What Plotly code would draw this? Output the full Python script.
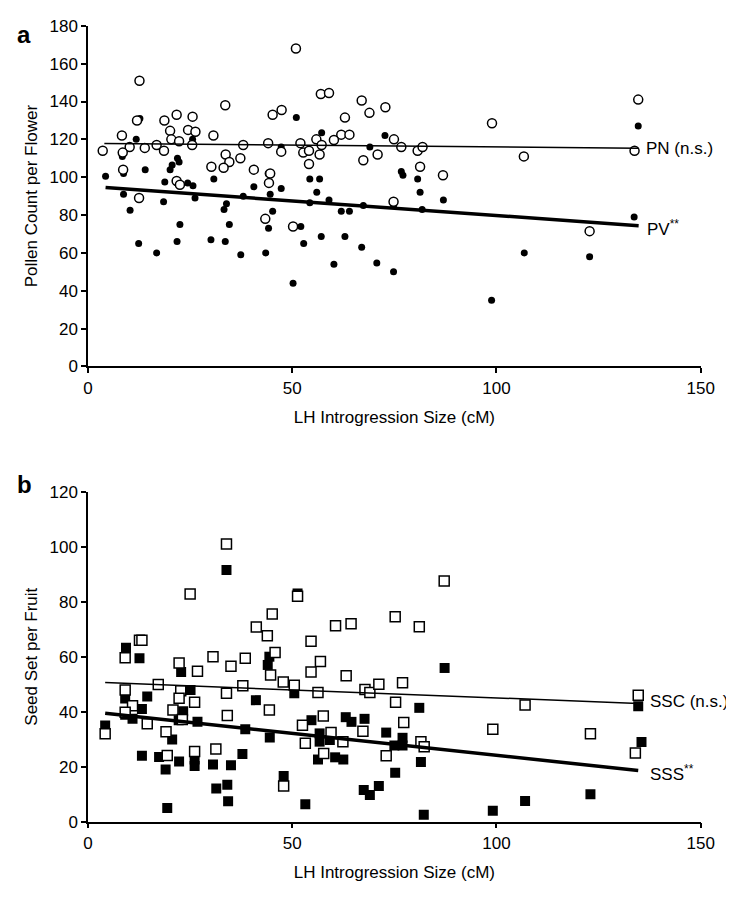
import plotly.graph_objects as go

# ---------------- Panel a: pollen counts ----------------
pn_x = [3.6, 12.6, 50.9, 57, 12, 18.7, 21.7, 25.6, 20.1, 24.5, 26.3, 20.4, 22.3, 25.5, 8.3, 10.2, 8.5, 13.9,
        16.8, 18.6, 30.7, 33.6, 38, 33.7, 34.6, 37.3, 33.2, 30.2, 40.6, 45.2, 47.4, 44.1, 47.3, 52, 52.7, 54.1,
        55.9, 56.7, 54.1, 44.6, 44.3, 8.6, 21.7, 22.5, 12.5, 43.4, 50.2,
        59, 67, 72.8, 68.9, 62.9, 98.9, 62, 64, 60.2, 57.2, 74.9, 76.7, 80.7, 81.9, 70.9, 67.4, 81.3, 86.9,
        106.7, 74.8, 134.7, 133.8, 122.8]
pn_y = [114, 151, 168, 144, 130, 130, 133, 132, 124.5, 125, 124, 120, 119, 117, 122, 116, 113, 115.5,
        117, 114, 122, 138, 117, 112, 108, 110, 105, 105.5, 104, 133, 135.5, 118, 113.5, 118, 113, 114,
        120, 112, 107, 102, 97, 104, 98, 96, 89, 78, 74,
        144.5, 140.5, 137, 134, 131.5, 128.5, 122.5, 122.5, 119.7, 117, 120, 116, 114, 116, 112, 109, 105.5, 101,
        111, 87, 141, 114, 71.5]

pv_x = [4.3, 12.7, 11.8, 8.4, 8.7, 14, 21.9, 22.3, 20.6, 20.1, 25.6, 18.8, 24.4, 25.7, 30.8, 8.7, 18.5, 26.2,
        10.3, 33.9, 33.3, 38, 40.6, 44.1, 47.3, 47.3, 44.6, 51, 57.2, 54.3, 56.7, 56, 54.3, 45.2,
        22.5, 34.6, 44.2, 52.1, 57.1, 12.4, 21.8, 30.1, 33.6, 52.8, 16.8, 37.4, 43.5, 50.2,
        72.7, 69, 76.7, 77.1, 80.7, 81.3, 87, 59, 67.4, 74.8, 62, 64, 81.8,
        62.9, 67, 60.2, 70.7, 74.8, 98.8, 106.8, 134.7, 133.7, 122.8]
pv_y = [100.5, 131, 120, 111, 102, 104, 110, 108, 106.5, 104, 120, 97.5, 97, 95.5, 99, 91, 87, 89,
        82.5, 86, 83, 90, 95, 102, 116, 94, 91, 131.5, 123.5, 99, 99, 92, 86.5, 82,
        75, 75, 73, 74, 68.7, 65, 66, 67, 66, 65, 60, 59, 60, 44,
        122, 116, 103, 101, 99, 92, 88, 88, 85, 85, 82, 82, 83,
        68.7, 63, 54, 54.7, 50, 35, 60, 127, 79, 58]

# trend lines (end points)
pn_fit_x = [4.0, 134.7]
pn_fit_y = [117.8, 115.3]
pv_fit_x = [4.3, 134.8]
pv_fit_y = [94.5, 74.4]

# ---------------- Panel b: seed set ----------------
ssc_x = [4.2, 33.9, 25, 51.3, 45.1, 41.2, 43.9, 54.6, 12.6, 13.2, 30.6, 38.5, 45.8, 9.1, 56.9, 22.3,
         87.2, 75.2, 64.4, 60.6, 81.1,
         35, 26.8, 44.7, 47.8, 50.5, 54.6, 17.2, 9.1, 22.7, 22.3, 26.1, 20.8, 10.9, 9.1, 14.5, 23.1, 33.9,
         37.9, 34.1, 44.4, 56.3, 52.5, 53.2, 19.1, 19.4, 26.1, 31.3, 47.9,
         63.2, 67.8, 69, 71.2, 77, 75.3, 77.3, 57.6, 67.3, 59.5, 62.4, 57.7, 73, 81.5, 82.3, 99.1, 107,
         123, 134.7, 134]
ssc_y = [32, 101, 82.8, 82, 75.5, 70.8, 67.6, 65.6, 66, 66, 60, 59.4, 61.5, 59.6, 58.3, 57.7,
         87.5, 74.5, 72, 71.3, 70.9,
         56.5, 54.7, 53.3, 50.8, 49.6, 54.4, 49.9, 47.9, 47.6, 44.9, 43.4, 40.6, 42.2, 39.8, 35.6, 37.2, 46.7,
         49.4, 38.6, 40.6, 47, 35.1, 28.5, 32.7, 24.1, 25.5, 26.4, 13,
         53.1, 48.1, 47, 50, 50.5, 43.4, 36.1, 38.4, 32.9, 32.4, 29.1, 24.8, 24, 29.1, 27.2, 33.6, 42.4,
         32, 46, 25]

sss_x = [4.2, 33.9, 9.3, 12.6, 44.4, 44, 51.3,
         22.8, 25.1, 14.5, 9.1, 13.2, 10.9, 9.1, 23.3, 22.2, 26.8, 38.5, 44.5, 41.1, 50.5, 54.7, 56.7, 56.7,
         56.3, 20.6, 13.2, 17.4, 22.3, 26.1, 26.1, 19, 30.6, 35, 37.8, 31.4, 34.1, 34.3, 19.4, 53.2, 47.9,
         87.3, 81.1, 63.1, 64.5, 67.7, 73, 59.2, 60.5, 62.5, 77, 75, 77, 81.5, 75.2, 67.5, 69, 71.2, 82.2,
         99.1, 107, 123, 134.7, 135.5]
sss_y = [35, 91.5, 63.3, 59.4, 60, 57, 83,
         54.4, 47.9, 45.5, 44.8, 41, 37.4, 38.9, 40.2, 36.9, 36.3, 33.6, 30.6, 44.2, 46.7, 36.9, 32.1, 29.1,
         22.6, 29.9, 24, 23.5, 21.9, 22.6, 20.2, 19, 20.8, 20.5, 24.6, 12.1, 13.4, 7.4, 5, 6.3, 16.6,
         55.9, 41.4, 38, 36.3, 37.4, 32.4, 29.7, 23.4, 22.6, 30.5, 27.7, 27.7, 21.7, 17.8, 11.5, 9.7, 13, 2.5,
         4, 7.5, 10, 42, 29]

ssc_fit_x = [4.2, 134.7]
ssc_fit_y = [50.6, 43.0]
sss_fit_x = [4.2, 134.7]
sss_fit_y = [39.4, 18.6]

a_yticks = [0, 20, 40, 60, 80, 100, 120, 140, 160, 180]
b_yticks = [0, 20, 40, 60, 80, 100, 120]
x_ticks = [0, 50, 100, 150]

FONT = "Liberation Sans, Arial, sans-serif"

fig = go.Figure()

# panel a
fig.add_trace(go.Scatter(x=pv_x, y=pv_y, mode="markers", xaxis="x", yaxis="y",
                         marker=dict(symbol="circle", size=7, color="black", line=dict(width=0))))
fig.add_trace(go.Scatter(x=pn_x, y=pn_y, mode="markers", xaxis="x", yaxis="y",
                         marker=dict(symbol="circle", size=9, color="white", line=dict(width=1.5, color="black"))))
fig.add_trace(go.Scatter(x=pn_fit_x, y=pn_fit_y, mode="lines", xaxis="x", yaxis="y",
                         line=dict(color="black", width=1.5)))
fig.add_trace(go.Scatter(x=pv_fit_x, y=pv_fit_y, mode="lines", xaxis="x", yaxis="y",
                         line=dict(color="black", width=3.5)))

# panel b
fig.add_trace(go.Scatter(x=sss_x, y=sss_y, mode="markers", xaxis="x2", yaxis="y2",
                         marker=dict(symbol="square", size=10, color="black", line=dict(width=0))))
fig.add_trace(go.Scatter(x=ssc_x, y=ssc_y, mode="markers", xaxis="x2", yaxis="y2",
                         marker=dict(symbol="square", size=10, color="white", line=dict(width=1.5, color="black"))))
fig.add_trace(go.Scatter(x=ssc_fit_x, y=ssc_fit_y, mode="lines", xaxis="x2", yaxis="y2",
                         line=dict(color="black", width=1.5)))
fig.add_trace(go.Scatter(x=sss_fit_x, y=sss_fit_y, mode="lines", xaxis="x2", yaxis="y2",
                         line=dict(color="black", width=3.5)))

W, H = 734, 900
xdom = [77 / W, 706 / W]
ya_dom = [1 - 357 / H, 1 - 9 / H]
yb_dom = [1 - 822 / H, 1 - 485 / H]

axis_common = dict(showgrid=False, zeroline=False, showline=True, linecolor="black", linewidth=1.5,
                   ticks="outside", ticklen=5, tickwidth=1.5, tickcolor="black",
                   tickfont=dict(family=FONT, size=17, color="black"),
                   title_font=dict(family=FONT, size=17, color="black"))

fig.update_layout(
    width=W, height=H, showlegend=False,
    paper_bgcolor="white", plot_bgcolor="white",
    margin=dict(l=0, r=0, t=0, b=0),
    xaxis=dict(domain=xdom, anchor="y", range=[0, 150], tickvals=x_ticks,
               title=dict(text="LH Introgression Size (cM)", standoff=14), **axis_common),
    yaxis=dict(domain=ya_dom, anchor="x", range=[0, 180], tickvals=a_yticks,
               title=dict(text="Pollen Count per Flower", standoff=8), **axis_common),
    xaxis2=dict(domain=xdom, anchor="y2", range=[0, 150], tickvals=x_ticks,
                title=dict(text="LH Introgression Size (cM)", standoff=14), **axis_common),
    yaxis2=dict(domain=yb_dom, anchor="x2", range=[0, 120], tickvals=b_yticks,
                title=dict(text="Seed Set per Fruit", standoff=8), **axis_common),
)

lab_font = dict(family=FONT, size=17, color="black")
fig.add_annotation(x=pn_fit_x[1], y=pn_fit_y[1], xref="x", yref="y", text="PN (n.s.)", showarrow=False,
                   xanchor="left", xshift=6, font=lab_font)
fig.add_annotation(x=pv_fit_x[1], y=pv_fit_y[1], xref="x", yref="y", text="PV<sup>**</sup>", showarrow=False,
                   xanchor="left", xshift=6, yshift=-2, font=lab_font)
fig.add_annotation(x=ssc_fit_x[1], y=ssc_fit_y[1], xref="x2", yref="y2", text="SSC (n.s.)", showarrow=False,
                   xanchor="left", xshift=10, yshift=2, font=lab_font)
fig.add_annotation(x=sss_fit_x[1], y=sss_fit_y[1], xref="x2", yref="y2", text="SSS<sup>**</sup>", showarrow=False,
                   xanchor="left", xshift=10, yshift=-2, font=lab_font)

fig.add_annotation(x=2 / W, y=1 - 2 / H, xref="paper", yref="paper", text="<b>a</b>", showarrow=False,
                   xanchor="left", yanchor="top", font=dict(family=FONT, size=24, color="black"))
fig.add_annotation(x=2 / W, y=1 - 462 / H, xref="paper", yref="paper", text="<b>b</b>", showarrow=False,
                   xanchor="left", yanchor="top", font=dict(family=FONT, size=24, color="black"))

fig.write_html("out.html")
